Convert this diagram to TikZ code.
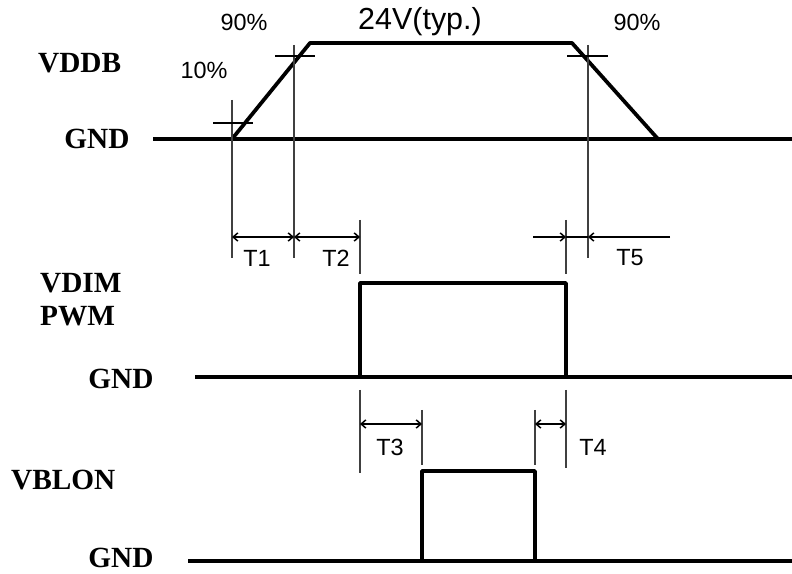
\documentclass[tikz,border=0pt]{standalone}
\usepackage{fontspec}
\setmainfont{Liberation Serif}
\newfontfamily\labelfont{Liberation Sans}
\usetikzlibrary{arrows.meta,calc}

\tikzset{
  signal/.style={line width=3.2pt, line join=round},
  gnd/.style={line width=2.6pt},
  guide/.style={line width=1pt, black!75},
  pctmark/.style={line width=1.3pt},
  span/.style={line width=0.9pt,
    {Straight Barb[length=4pt,width=7pt,line width=1.3pt]}-{Straight Barb[length=4pt,width=7pt,line width=1.3pt]}},
  tip/.style={line width=0.9pt, -{Straight Barb[length=4pt,width=7pt,line width=1.3pt]}},
  sig/.style={font=\fontsize{25}{27}\selectfont\bfseries},
  tname/.style={font=\labelfont\fontsize{20}{22}\selectfont},
  pct/.style={font=\labelfont\fontsize{20}{22}\selectfont},
}

\begin{document}
\begin{tikzpicture}[x=0.3mm, y=-0.3mm]
      \useasboundingbox (0,0) rectangle (792,574);

      % Time instants
      \coordinate (tA) at (232,0);
      \coordinate (tB) at (294,0);
      \coordinate (tC) at (360,0);
      \coordinate (tD) at (422,0);
      \coordinate (tE) at (535,0);
      \coordinate (tF) at (566,0);
      \coordinate (tG) at (588,0);

      % Arrow rows
      \coordinate (row1) at (0,237);
      \coordinate (row2) at (0,424);

      % VDDB waveform
      \coordinate (foot1) at (232,139);
      \coordinate (top1) at (310,43);
      \coordinate (top2) at (572,43);
      \coordinate (foot2) at (658,139);
      \draw[gnd] (153,139) -- (792,139);
      \draw[signal] (foot1) -- (top1) -- (top2) -- (foot2);

      % VDIM / PWM pulse
      \draw[gnd] (195,377) -- (792,377);
      \draw[signal] (tC |- 0,377) -- (tC |- 0,283) -- (tF |- 0,283) -- (tF |- 0,377);

      % VBLON pulse
      \draw[gnd, line width=3.4pt] (188,561) -- (792,561);
      \draw[signal] (tD |- 0,561) -- (tD |- 0,471) -- (tE |- 0,471) -- (tE |- 0,561);

      % Guide lines
      \draw[guide] (tA |- 0,100) -- (tA |- 0,258);
      \draw[guide] (tB |- 0,45) -- (tB |- 0,258);
      \draw[guide] (tG |- 0,45) -- (tG |- 0,258);
      \draw[guide] (tC |- 0,220) -- (tC |- 0,274);
      \draw[guide] (tF |- 0,220) -- (tF |- 0,274);
      \draw[guide] (tC |- 0,390) -- (tC |- 0,473);
      \draw[guide] (tD |- 0,410) -- (tD |- 0,465);
      \draw[guide] (tE |- 0,410) -- (tE |- 0,465);
      \draw[guide] (tF |- 0,390) -- (tF |- 0,468);

      % 10% / 90% marks
      \draw[pctmark] (213,123) -- (253,123);
      \draw[pctmark] (275,56) -- (315,56);
      \draw[pctmark] (567,56) -- (608,56);

      % Timing spans
      \draw[span] (tA |- row1) -- (tB |- row1);
      \draw[span] (tB |- row1) -- (tC |- row1);
      \draw[tip] (533,237) -- (tF |- row1);
      \draw[line width=0.9pt] (tF |- row1) -- (tG |- row1);
      \draw[tip] (670,237) -- (tG |- row1);
      \draw[span] (tC |- row2) -- (tD |- row2);
      \draw[span] (tE |- row2) -- (tF |- row2);

      % Span labels
      \node[tname] (T1) at (257,258) {T1};
      \node[tname] (T2) at (336,258) {T2};
      \node[tname] (T5) at (630,258) {T5};
      \node[tname] (T3) at (390,447) {T3};
      \node[tname] (T4) at (593,447) {T4};

      % Level labels
      \node[pct] (p90a) at (244,22) {90\%};
      \node[pct] (p10) at (204,70) {10\%};
      \node[pct] (p90b) at (637,22) {90\%};
      \node[tname, font=\labelfont\fontsize{26}{28}\selectfont] (typ) at (420,22) {24V(typ.)};

      % Signal names
      \node[sig, anchor=west] (vddb) at (34,63) {VDDB};
      \node[sig] (gndA) at (97,139) {GND};
      \node[sig, anchor=west] (vdim) at (36,283) {VDIM};
      \node[sig, anchor=west] (pwm) at (36,316) {PWM};
      \node[sig] (gndB) at (121,379) {GND};
      \node[sig, anchor=west] (vblon) at (7,480) {VBLON};
      \node[sig] (gndC) at (121,558) {GND};

    \end{tikzpicture}
\end{document}
